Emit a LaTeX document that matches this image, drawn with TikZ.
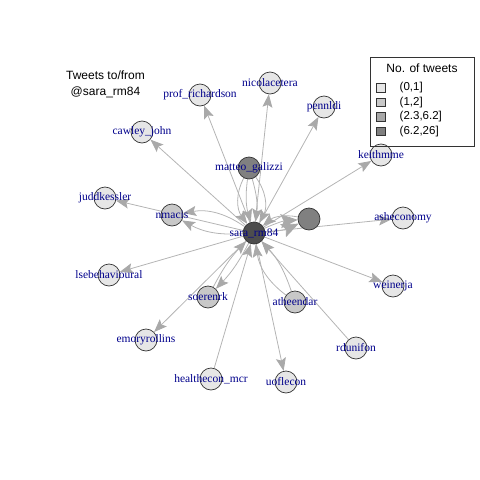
\documentclass[tikz,border=0pt]{standalone}
\usepackage{fontspec}
\setmainfont{Liberation Serif}
\newfontfamily\arialf{Liberation Sans}
\usetikzlibrary{arrows.meta}
\pgfdeclarelayer{edges}
\pgfsetlayers{edges,main}
\definecolor{vlight}{HTML}{E6E6E6}
\definecolor{vmid}{HTML}{C8C8C8}
\definecolor{vgray}{HTML}{A8A8A8}
\definecolor{vdark}{HTML}{808080}
\definecolor{vcenter}{HTML}{4D4D4D}
\definecolor{edgec}{HTML}{B4B4B4}
\definecolor{headc}{HTML}{A9A9A9}
\definecolor{lblc}{HTML}{00008B}
\tikzset{
  vx/.style={circle,draw=black!80,line width=0.7pt,minimum size=22pt,inner sep=0pt},
  lbl/.style={text=lblc,font=\fontsize{11.5}{12}\selectfont,inner sep=0pt},
  ed/.style={draw=edgec,line width=0.8pt,-{Stealth[length=13pt,width=10pt,inset=2.5pt,fill=headc,color=headc]}},
  edbig/.style={draw=edgec,line width=0.8pt,-{Stealth[length=17pt,width=14pt,inset=3pt,fill=headc,color=headc]}},
  ttl/.style={font=\arialf\fontsize{12}{16}\selectfont,align=center,inner sep=0pt},
  leg/.style={font=\arialf\fontsize{11.5}{12}\selectfont,inner sep=0pt,anchor=west},
  sq/.style={draw=black!80,line width=0.6pt,minimum size=8.5pt,inner sep=0pt}
}
\begin{document}
\begin{tikzpicture}[x=1pt,y=-1pt]
\useasboundingbox (0,0) rectangle (480,480);
% vertices
\node[vx,fill=vcenter] (sara) at (254,233) {};
\node[vx,fill=vdark] (matteo) at (249,168) {};
\node[vx,fill=vdark] (anon) at (309,219) {};
\node[vx,fill=vmid] (nmacis) at (172,215) {};
\node[vx,fill=vmid] (soerenrk) at (208,297) {};
\node[vx,fill=vmid] (atheendar) at (295,302) {};
\node[vx,fill=vlight] (prof) at (200,95) {};
\node[vx,fill=vlight] (nicola) at (270,83) {};
\node[vx,fill=vlight] (pennldi) at (324,107) {};
\node[vx,fill=vlight] (keith) at (381,155) {};
\node[vx,fill=vlight] (cawley) at (142,132) {};
\node[vx,fill=vlight] (judd) at (105,198) {};
\node[vx,fill=vlight] (lse) at (109,275) {};
\node[vx,fill=vlight] (emory) at (146,340) {};
\node[vx,fill=vlight] (health) at (211,379) {};
\node[vx,fill=vlight] (uofl) at (286,382) {};
\node[vx,fill=vlight] (rdun) at (356,348) {};
\node[vx,fill=vlight] (weiner) at (393,286) {};
\node[vx,fill=vlight] (ashe) at (403,218) {};
% labels
\node[lbl] at (sara) {sara\_rm84};
\node[lbl] at (matteo) {matteo\_galizzi};
\node[lbl] at (nmacis) {nmacis};
\node[lbl] at (soerenrk) {soerenrk};
\node[lbl] at (atheendar) {atheendar};
\node[lbl] at (prof) {prof\_richardson};
\node[lbl] at (nicola) {nicolacetera};
\node[lbl] at (pennldi) {pennldi};
\node[lbl] at (keith) {keithmme};
\node[lbl] at (cawley) {cawley\_john};
\node[lbl] at (judd) {juddkessler};
\node[lbl] at (lse) {lsebehavioural};
\node[lbl] at (emory) {emoryrollins};
\node[lbl] at (health) {healthecon\_mcr};
\node[lbl] at (uofl) {uoflecon};
\node[lbl] at (rdun) {rdunifon};
\node[lbl] at (weiner) {weinerja};
\node[lbl] at (ashe) {asheconomy};
% edges
\begin{pgfonlayer}{edges}
\draw[ed] (sara) -- (prof);
\draw[ed] (sara) -- (nicola);
\draw[ed] (sara) -- (pennldi);
\draw[ed] (sara) -- (keith);
\draw[ed] (sara) -- (cawley);
\draw[ed] (sara) -- (judd);
\draw[ed] (sara) -- (lse);
\draw[ed] (sara) -- (emory);
\draw[ed] (sara) -- (uofl);
\draw[ed] (sara) -- (weiner);
\draw[ed] (sara) -- (ashe);
\draw[ed] (sara) to[bend left=8] (soerenrk);
\draw[ed] (soerenrk) to[bend left=8] (sara);
\draw[ed] (health) -- (sara);
\draw[ed] (rdun) -- (sara);
\draw[ed] (atheendar) to[bend left=22] (sara);
\draw[ed] (atheendar) to[bend right=12] (sara);
\draw[ed] (sara) to[bend right=22] (nmacis);
\draw[ed] (sara) to[bend left=16] (nmacis);
\draw[ed] (matteo) to[bend right=32] (sara);
\draw[ed] (matteo) to[bend right=12] (sara);
\draw[ed] (matteo) to[bend left=12] (sara);
\draw[ed] (matteo) to[bend left=32] (sara);
\draw[edbig] (sara) to[bend left=10] (anon);
\draw[edbig] (sara) to[bend right=10] (anon);
\draw[ed] (anon) to[bend right=25] (sara);
\end{pgfonlayer}
% title
\node[ttl] (title) at (105.5,84) {Tweets to/from\\@sara\_rm84};
% legend
\node[draw=black!80,line width=0.7pt,minimum width=104pt,minimum height=89pt,inner sep=0pt] (legbox) at (422,102) {};
\node[font=\arialf\fontsize{12}{14}\selectfont,inner sep=0pt] (legt) at (422,68) {No. of tweets};
\node[sq,fill=vlight] (s1) at (381,88) {};
\node[sq,fill=vmid] (s2) at (381,102.5) {};
\node[sq,fill=vgray] (s3) at (381,117) {};
\node[sq,fill=vdark] (s4) at (381,131.5) {};
\node[leg] (t1) at (399.5,88) {(0,1]};
\node[leg] (t2) at (399.5,102.5) {(1,2]};
\node[leg] (t3) at (399.5,117) {(2.3,6.2]};
\node[leg] (t4) at (399.5,131.5) {(6.2,26]};
\end{tikzpicture}
\end{document}
